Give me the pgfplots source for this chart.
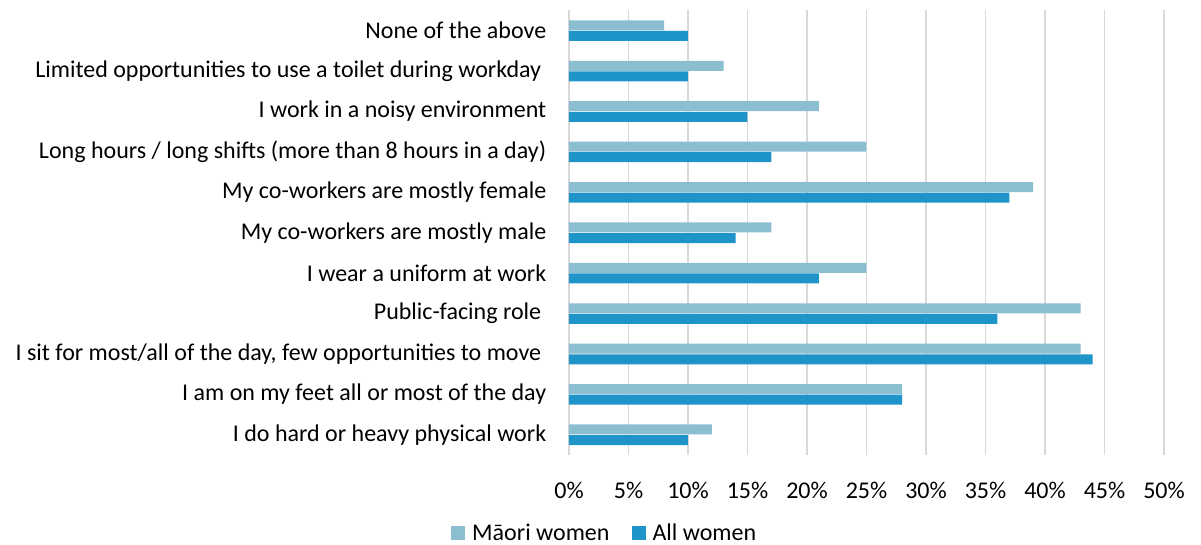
\documentclass[border=0pt]{standalone}
\usepackage{fontspec}
\setmainfont{Carlito}
\usepackage{pgfplots}
\pgfplotsset{compat=1.18}
\definecolor{maori}{RGB}{139,190,209}
\definecolor{allw}{RGB}{30,148,200}
\definecolor{gridc}{RGB}{217,217,217}
\begin{document}
\begin{tikzpicture}
\useasboundingbox (-569pt,-90pt) rectangle (632pt,455pt);
\begin{axis}[
  scale only axis,
  width=595pt, height=444.5pt,
  xmin=0, xmax=50,
  ymin=-0.5, ymax=10.5,
  font=\fontsize{24}{28}\selectfont,
  /pgf/number format/assume math mode=true,
  xbar, bar width=10pt,
  xtick={0,5,...,50},
  xticklabels={0\%,5\%,10\%,15\%,20\%,25\%,30\%,35\%,40\%,45\%,50\%},
  ytick={0,...,10},
  yticklabels={
    I do hard or heavy physical work,
    I am on my feet all or most of the day,
    {I sit for most/all of the day, few opportunities to move\kern5pt},
    Public-facing role\kern5pt,
    I wear a uniform at work,
    My co-workers are mostly male,
    My co-workers are mostly female,
    Long hours / long shifts (more than 8 hours in a day),
    I work in a noisy environment,
    Limited opportunities to use a toilet during workday\kern5pt,
    None of the above},
  xmajorgrids, major grid style={gridc, line width=1.3pt},
  axis line style={draw=none},
  tick style={draw=none},
  yticklabel style={xshift=-15pt},
  xticklabel style={yshift=-24pt},
  legend style={draw=none, at={(0.06,-0.176)}, anchor=center,
    legend columns=2,
    /tikz/every odd column/.append style={column sep=5pt},
    /tikz/every even column/.append style={column sep=20pt},
    font=\fontsize{24}{28}\selectfont},
  legend image code/.code={\fill[#1] (0pt,-7pt) rectangle (14pt,7pt);},
]
\addplot[fill=maori, draw=none, bar shift=5.3pt] coordinates {
 (12,0) (28,1) (43,2) (43,3) (25,4) (17,5) (39,6) (25,7) (21,8) (13,9) (8,10)};
\addplot[fill=allw, draw=none, bar shift=-5.3pt] coordinates {
 (10,0) (28,1) (44,2) (36,3) (21,4) (14,5) (37,6) (17,7) (15,8) (10,9) (10,10)};
\legend{Māori women, All women}
\end{axis}
\end{tikzpicture}
\end{document}
